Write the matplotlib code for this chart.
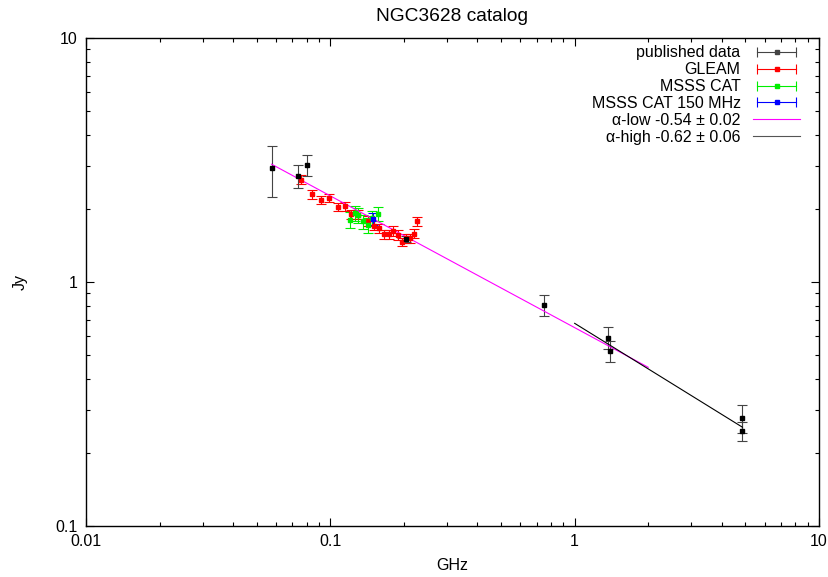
import matplotlib
matplotlib.use('Agg')
import matplotlib.pyplot as plt
from matplotlib.lines import Line2D
from matplotlib.legend_handler import HandlerLine2D, HandlerTuple
import numpy as np

plt.rcParams['font.family'] = ['Liberation Sans', 'DejaVu Sans']
plt.rcParams['font.size'] = 11.5

# published data (GHz, Jy, err)
pub_freq = [0.0575, 0.074, 0.0806, 0.204, 0.751, 1.374, 1.40, 4.86, 4.86]
pub_flux = [2.92, 2.72, 3.02, 1.50, 0.803, 0.591, 0.523, 0.276, 0.246]
pub_err = [0.70, 0.30, 0.30, 0.04, 0.08, 0.06, 0.052, 0.036, 0.022]

# GLEAM sub-bands
gleam_freq = [0.076, 0.084, 0.092, 0.099, 0.107, 0.115, 0.122, 0.130, 0.143, 0.151,
              0.158, 0.166, 0.174, 0.181, 0.189, 0.197, 0.204, 0.212, 0.220, 0.227]
gleam_flux = [2.63, 2.29, 2.17, 2.21, 2.03, 2.04, 1.90, 1.89, 1.78, 1.70,
              1.66, 1.57, 1.57, 1.62, 1.56, 1.46, 1.51, 1.51, 1.58, 1.77]
gleam_err = [0.11, 0.10, 0.09, 0.09, 0.08, 0.08, 0.08, 0.08, 0.08, 0.07,
             0.07, 0.07, 0.07, 0.07, 0.07, 0.06, 0.06, 0.06, 0.07, 0.07]

# MSSS catalogue
msss_freq = [0.120, 0.126, 0.130, 0.136, 0.143, 0.148, 0.157]
msss_flux = [1.80, 1.91, 1.88, 1.77, 1.71, 1.83, 1.90]
msss_err = [0.13, 0.13, 0.13, 0.12, 0.12, 0.12, 0.12]

# MSSS 150 MHz
msss150_freq = [0.150]
msss150_flux = [1.81]
msss150_err = [0.10]

# power-law fits: S = norm * nu^alpha over [nu_min, nu_max]
fit_low = {'norm': 0.65, 'alpha': -0.54, 'range': [0.0575, 2.0]}
fit_high = {'norm': 0.677, 'alpha': -0.62, 'range': [1.0, 4.86]}

fig = plt.figure(figsize=(8.29, 5.77), dpi=100)
ax = fig.add_axes([86/829, 1-526/577, (819-86)/829, (526-38)/577])

eb_kw = dict(fmt='s', markersize=2.5, capsize=3.5, elinewidth=0.8, capthick=0.8, lw=0.8)
ax.errorbar(gleam_freq, gleam_flux, yerr=gleam_err, color='#ff0000', **eb_kw)
ax.errorbar(msss_freq, msss_flux, yerr=msss_err, color='#00ee00', **eb_kw)
ax.errorbar(msss150_freq, msss150_flux, yerr=msss150_err, color='#0000ff', **eb_kw)
ax.errorbar(pub_freq, pub_flux, yerr=pub_err, color='black', ecolor='#444444', **eb_kw)

for fit, col in [(fit_low, '#ff00ff'), (fit_high, 'black')]:
    nu = np.array(fit['range'])
    ax.plot(nu, fit['norm'] * nu ** fit['alpha'], color=col, lw=0.8)

ax.set_xscale('log')
ax.set_yscale('log')
ax.set_xlim(0.01, 10)
ax.set_ylim(0.1, 10)
ax.set_xticks([0.01, 0.1, 1, 10])
ax.set_xticklabels(['0.01', '0.1', '1', '10'])
ax.set_yticks([0.1, 1, 10])
ax.set_yticklabels(['0.1', '1', '10'])
ax.tick_params(which='both', direction='in', top=True, right=True, width=0.8)
ax.tick_params(which='major', length=6, pad=6)
ax.tick_params(which='minor', length=3)
for s in ax.spines.values():
    s.set_linewidth(1.0)

ax.set_title('NGC3628 catalog', pad=12)
ax.set_xlabel('GHz', labelpad=6)
ax.set_ylabel('Jy', labelpad=20)

# gnuplot-like legend samples
def eb_handle(color):
    caps = Line2D([], [], color=color, lw=0.8, marker='|', markersize=7, markeredgewidth=0.8)
    pt = Line2D([], [], color=color, lw=0, marker='s', markersize=2.5)
    return (caps, pt), caps

labels = ['published data', 'GLEAM', 'MSSS CAT', 'MSSS CAT 150 MHz',
          'α-low -0.54 ± 0.02', 'α-high -0.62 ± 0.06']
handles = []
hmap = {}
for c in ['#444444', '#ff0000', '#00ee00', '#0000ff']:
    h, caps = eb_handle(c)
    handles.append(h)
    hmap[caps] = HandlerLine2D(numpoints=2)
    hmap[h] = HandlerTuple(ndivide=1, pad=0)
handles.append(Line2D([], [], color='#ff00ff', lw=0.8))
handles.append(Line2D([], [], color='#555555', lw=0.8))

ax.legend(handles, labels, handler_map=hmap, loc='upper right', frameon=False,
          markerfirst=False, handlelength=3.0, handletextpad=0.75, labelspacing=0.12,
          bbox_to_anchor=(0.99, 1.008), borderaxespad=0.3)
for t in ax.get_legend().get_texts():
    t.set_ha('right')

fig.savefig('out.png', dpi=100)
